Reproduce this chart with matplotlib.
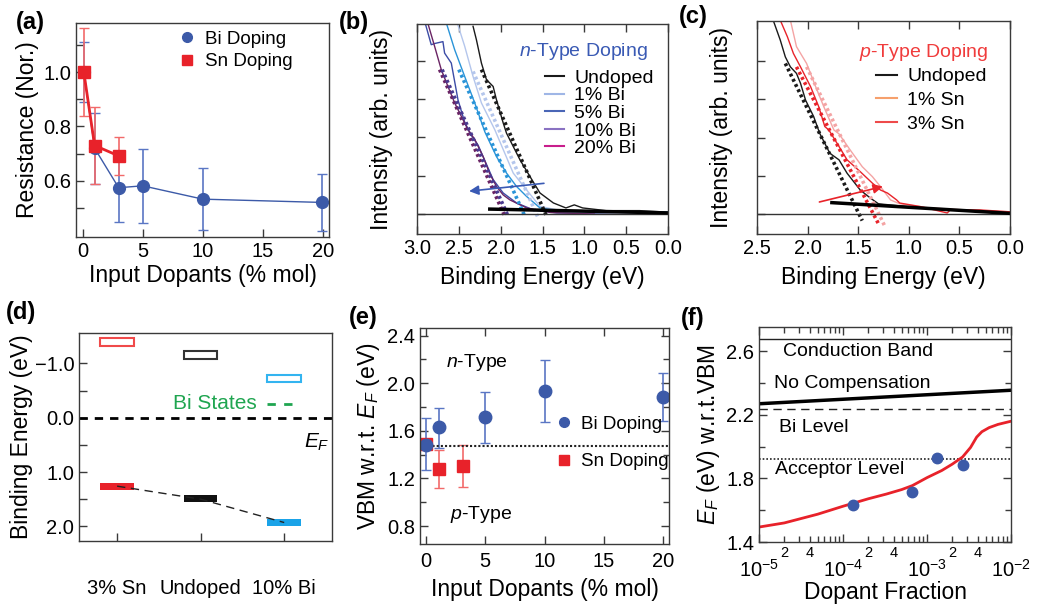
import matplotlib.pyplot as plt
import numpy as np
from matplotlib import ticker
from matplotlib.lines import Line2D

plt.rcParams["font.family"] = ["Liberation Sans", "DejaVu Sans"]
plt.rcParams["mathtext.fontset"] = "custom"
plt.rcParams["mathtext.rm"] = "Liberation Sans"
plt.rcParams["mathtext.it"] = "Liberation Sans:italic"
plt.rcParams["axes.edgecolor"] = "#3a3a3a"
plt.rcParams["axes.linewidth"] = 1.0

# ---- (a) resistance vs input dopants
a_bi_x = [0.1, 1.0, 3.0, 5.0, 10.0, 19.9]
a_bi_y = [1.0, 0.72, 0.575, 0.582, 0.533, 0.521]
a_bi_err = [0.11, 0.13, 0.127, 0.137, 0.115, 0.105]
a_sn_x = [0.1, 1.0, 3.0]
a_sn_y = [1.0, 0.73, 0.692]
a_sn_err = [0.16, 0.14, 0.07]

# ---- (b) VB spectra, n-type
b_labels = ["Undoped", "1% Bi", "5% Bi", "10% Bi", "20% Bi"]
b_undoped_e = [2.33, 2.29, 2.23, 2.17, 2.09, 2.05, 1.97, 1.93, 1.77, 1.65, 1.53, 1.37, 1.22, 1.12, 1.02, 0.74, 0.34, 0.0]
b_undoped_i = [4.9, 4.55, 3.94, 3.51, 3.33, 2.98, 2.38, 2.11, 1.42, 0.98, 0.55, 0.29, 0.16, 0.24, 0.16, 0.09, 0.09, 0.05]
b_1bi_e = [2.55, 2.43, 2.33, 2.23, 2.07, 1.85, 1.69, 1.53, 1.33, 1.0, 0.5, 0.0]
b_1bi_i = [5.2, 4.38, 3.59, 2.9, 2.2, 1.07, 0.63, 0.2, 0.11, 0.07, 0.06, 0.04]
b_cyan_e = [2.68, 2.55, 2.43, 2.31, 2.19, 2.05, 1.93, 1.81, 1.69, 1.53, 1.33, 1.0, 0.5, 0.0]
b_cyan_i = [5.2, 4.29, 3.59, 2.9, 2.15, 1.5, 1.07, 0.72, 0.46, 0.16, 0.09, 0.06, 0.05, 0.05]
b_navy_e = [2.93, 2.83, 2.79, 2.69, 2.67, 2.59, 2.51, 2.43, 2.35, 2.27, 2.21, 2.09, 1.97, 1.81, 1.61, 1.33, 1.0, 0.6, 0.0]
b_navy_i = [5.2, 4.42, 4.45, 4.5, 4.2, 3.94, 2.98, 2.4, 2.05, 1.8, 1.5, 0.9, 0.55, 0.29, 0.11, 0.03, 0.02, 0.04, 0.03]
b_purple_e = [2.90, 2.79, 2.71, 2.63, 2.55, 2.47, 2.39, 2.31, 2.21, 2.13, 2.05, 1.97, 1.89, 1.69, 1.4, 1.0, 0.88]
b_purple_i = [5.2, 4.38, 3.77, 3.33, 2.9, 2.55, 2.2, 1.95, 1.5, 1.05, 0.72, 0.5, 0.37, 0.16, 0.04, 0.01, 0.0]
b_fit_e = [[2.23, 1.45], [2.33, 1.56], [2.50, 1.71], [2.73, 1.95], [2.70, 1.91]]
b_fit_i = [[3.77, -0.06], [3.72, -0.06], [3.77, -0.06], [3.77, -0.06], [3.77, -0.06]]
b_base_e = [2.13, 0.0]
b_base_i = [0.13, 0.03]
b_arrow = [(1.45, 0.81), (2.41, 0.59)]

# ---- (c) VB spectra, p-type
c_labels = ["Undoped", "1% Sn", "3% Sn"]
c_undoped_e = [2.40, 2.34, 2.27, 2.22, 2.17, 2.11, 2.07, 2.02, 1.94, 1.88, 1.78, 1.69, 1.61, 1.48, 1.38, 1.30, 0.95, 0.30, 0.0]
c_undoped_i = [5.6, 5.07, 4.55, 4.11, 3.85, 3.68, 3.42, 2.98, 2.55, 2.11, 1.59, 1.42, 1.07, 0.63, 0.42, 0.27, 0.18, 0.07, 0.05]
c_3sn_e = [2.33, 2.27, 2.2, 2.14, 2.07, 1.97, 1.89, 1.83, 1.79, 1.69, 1.61, 1.48, 1.36, 1.28, 1.21, 1.12, 1.09, 0.89, 0.62, 0.59, 0.30, 0.0]
c_3sn_i = [5.6, 5.07, 4.64, 4.2, 3.85, 3.33, 2.81, 2.29, 2.2, 1.77, 1.42, 1.11, 0.81, 0.63, 0.55, 0.37, 0.29, 0.2, 0.03, 0.11, 0.11, 0.06]
c_1sn_e = [2.22, 2.17, 2.11, 2.01, 1.92, 1.84, 1.74, 1.69, 1.58, 1.46, 1.36, 1.28, 1.18, 1.09, 0.79, 0.30, 0.0]
c_1sn_i = [5.4, 5.07, 4.38, 3.94, 3.33, 2.81, 2.2, 2.1, 1.68, 1.24, 0.98, 0.72, 0.37, 0.27, 0.16, 0.09, 0.06]
c_fit_e = [[2.22, 1.46], [2.11, 1.30], [2.01, 1.24]]
c_fit_i = [[3.94, -0.17], [3.85, -0.25], [3.85, -0.30]]
c_base_e = [1.76, 0.0]
c_base_i = [0.30, 0.02]
c_arrow = [(1.91, 0.30), (1.23, 0.74)]

# ---- (d) band positions
d_samples = ["3% Sn", "Undoped", "10% Bi"]
d_vbm = [1.26, 1.49, 1.93]
d_cbm = [-1.39, -1.16, -0.72]
d_vbm_trend = [1.26, 1.50, 1.93]
d_bi_states = -0.26

# ---- (e) VBM w.r.t. EF
e_bi_x = [0.0, 1.1, 5.0, 10.0, 20.0]
e_bi_y = [1.484, 1.63, 1.714, 1.932, 1.882]
e_bi_err_lo = [0.21, 0.174, 0.216, 0.257, 0.196]
e_bi_err_hi = [0.224, 0.162, 0.21, 0.264, 0.201]
e_sn_x = [0.0, 1.1, 3.1]
e_sn_y = [1.49, 1.282, 1.302]
e_sn_err_lo = [0.0, 0.162, 0.177]
e_sn_err_hi = [0.0, 0.157, 0.177]
e_intrinsic = 1.475

# ---- (f) EF vs dopant fraction
f_frac = [1e-5, 2e-5, 5e-5, 1e-4, 2e-4, 3.3e-4, 5e-4, 6.7e-4, 1e-3, 1.5e-3, 2e-3, 2.65e-3,
          3.3e-3, 3.9e-3, 4.5e-3, 5.5e-3, 7e-3, 1e-2]
f_ef = [1.494, 1.52, 1.575, 1.625, 1.672, 1.702, 1.73, 1.755, 1.805, 1.85, 1.89, 1.935,
        1.995, 2.06, 2.094, 2.12, 2.14, 2.16]
f_pts_x = [1.32e-4, 6.67e-4, 1.32e-3, 2.65e-3]
f_pts_y = [1.631, 1.713, 1.931, 1.883]
f_nocomp_x = [1e-5, 1e-2]
f_nocomp_y = [2.27, 2.355]
f_cb = 2.68
f_bi_level = 2.237
f_acc_level = 1.925

BLUE = "#3c5aa8"
RED = "#e8222a"
FS_TICK = 14.5
FS_LAB = 16.5
FS_TXT = 14

fig = plt.figure(figsize=(10.39, 6.08), dpi=100)
W, H = 1039, 608


def px_axes(left, top, right, bottom):
    return fig.add_axes([left / W, 1 - bottom / H, (right - left) / W, (bottom - top) / H])


def style(ax, top=False, right=False):
    ax.tick_params(which="both", direction="in", top=top, right=right,
                   labelsize=FS_TICK, width=1, color="#3a3a3a")
    ax.tick_params(which="major", length=6)
    ax.tick_params(which="minor", length=4)


# (a)
ax = px_axes(76, 23, 329, 237)
style(ax)
ax.errorbar(a_bi_x, a_bi_y, yerr=a_bi_err, color=BLUE, ecolor="#5a76c4", lw=1,
            elinewidth=1.2, capsize=3.5, marker="o", ms=8.5, label="Bi Doping")
ax.errorbar(a_sn_x, a_sn_y, yerr=a_sn_err, color=RED, ecolor="#f26a6a", lw=2,
            elinewidth=1.2, capsize=3.5, marker="s", ms=8, label="Sn Doping")
ax.set_xlim(-0.55, 20.5)
ax.set_ylim(0.394, 1.18)
ax.set_xticks([0, 5, 10, 15, 20])
ax.yaxis.set_major_locator(ticker.FixedLocator([0.6, 0.8, 1.0]))
ax.yaxis.set_minor_locator(ticker.FixedLocator([0.5, 0.7, 0.9, 1.1]))
ax.yaxis.set_major_formatter(ticker.FormatStrFormatter("%.1f"))
ax.tick_params(which="minor", length=6)
ax.set_xlabel("Input Dopants (% mol)", fontsize=FS_LAB, labelpad=2)
ax.set_ylabel("Resistance (Nor.)", fontsize=FS_LAB, labelpad=3)
h, l = ax.get_legend_handles_labels()
h = [Line2D([], [], color=BLUE, marker="o", ls="none", ms=7),
     Line2D([], [], color=RED, marker="s", ls="none", ms=7)]
ax.legend(h, l, loc="upper left", bbox_to_anchor=(0.40, 0.965), frameon=False,
          fontsize=13.5, handlelength=1.0, handletextpad=0.5, labelspacing=0.3,
          borderpad=0, borderaxespad=0)

# (b)
ax = px_axes(417, 24, 668, 234)
style(ax, top=True)
b_curves = [(b_undoped_e, b_undoped_i, "#1a1a1a"), (b_1bi_e, b_1bi_i, "#b4c6ec"),
            (b_cyan_e, b_cyan_i, "#2a94d8"), (b_navy_e, b_navy_i, "#3c4ca6"),
            (b_purple_e, b_purple_i, "#6a2464")]
for e, i, c in b_curves:
    ax.plot(e, i, color=c, lw=1.0)
for fe, fi, c in zip(b_fit_e, b_fit_i, ["#1a1a1a", "#b4c6ec", "#2a94d8", "#6a2464", "#4a3a90"]):
    ax.plot(fe, fi, color=c, lw=2.6, ls=(0, (0.8, 0.8)))
ax.axhline(0, color="#333333", lw=1)
ax.plot(b_base_e, b_base_i, color="k", lw=2.5)
ax.annotate("", xy=b_arrow[1], xytext=b_arrow[0],
            arrowprops=dict(arrowstyle="-|>", color="#3a5ab4", lw=1.2, mutation_scale=14))
ax.set_xlim(3.0, 0.0)
ax.set_ylim(-0.52, 4.96)
ax.set_xticks(np.arange(0, 3.01, 0.5))
ax.xaxis.set_major_formatter(ticker.FormatStrFormatter("%.1f"))
ax.set_yticks([0, 1, 2, 3, 4])
ax.set_yticklabels([])
ax.set_xlabel("Binding Energy (eV)", fontsize=FS_LAB, labelpad=6)
ax.set_ylabel("Intensity (arb. units)", fontsize=FS_LAB, labelpad=14)
ax.text(1.01, 4.25, r"$n$-Type Doping", ha="center", va="center", color="#3a5ab4", fontsize=FS_TXT)
b_leg_colors = ["#1a1a1a", "#9fb6e6", "#4a66b6", "#8a72c2", "#c81e8c"]
ax.legend([Line2D([], [], color=c, lw=1.5) for c in b_leg_colors], b_labels,
          loc="upper left", bbox_to_anchor=(0.51, 0.785), frameon=False, fontsize=FS_TXT,
          handlelength=1.0, handletextpad=0.5, labelspacing=0.0, borderpad=0, borderaxespad=0)

# (c)
ax = px_axes(757, 21, 1010, 234)
style(ax, top=True)
for e, i, c in [(c_undoped_e, c_undoped_i, "#1a1a1a"), (c_1sn_e, c_1sn_i, "#f4a4a4"),
                (c_3sn_e, c_3sn_i, "#e8232a")]:
    ax.plot(e, i, color=c, lw=1.0)
for fe, fi, c in zip(c_fit_e, c_fit_i, ["#1a1a1a", "#e8232a", "#f4a4a4"]):
    ax.plot(fe, fi, color=c, lw=2.6, ls=(0, (0.8, 0.8)))
ax.axhline(0, color="#333333", lw=1)
ax.plot(c_base_e, c_base_i, color="k", lw=2.5)
ax.annotate("", xy=c_arrow[1], xytext=c_arrow[0],
            arrowprops=dict(arrowstyle="-|>", color="#e8232a", lw=1.2, mutation_scale=14))
ax.set_xlim(2.5, 0.0)
ax.set_ylim(-0.52, 5.05)
ax.set_xticks(np.arange(0, 2.51, 0.5))
ax.xaxis.set_major_formatter(ticker.FormatStrFormatter("%.1f"))
ax.set_yticks([0, 1, 2, 3, 4])
ax.set_yticklabels([])
ax.set_xlabel("Binding Energy (eV)", fontsize=FS_LAB, labelpad=6)
ax.set_ylabel("Intensity (arb. units)", fontsize=FS_LAB, labelpad=14)
ax.text(0.85, 4.22, r"$p$-Type Doping", ha="center", va="center", color="#f03c3c", fontsize=FS_TXT)
ax.legend([Line2D([], [], color=c, lw=1.5) for c in ["#1a1a1a", "#f6a06c", "#ee4a4a"]], c_labels,
          loc="upper left", bbox_to_anchor=(0.47, 0.78), frameon=False, fontsize=FS_TXT,
          handlelength=1.1, handletextpad=0.5, labelspacing=0.32, borderpad=0, borderaxespad=0)

# (d)
ax = px_axes(79, 333, 332, 541)
ax.tick_params(which="both", direction="in", labelsize=FS_TICK, width=1, color="#3a3a3a")
ax.tick_params(which="major", length=6)
ax.tick_params(which="minor", length=6)
pos = np.arange(len(d_samples))
d_fill = ["#e8222a", "#111111", "#1aa3e8"]
d_edge = ["#f04a4a", "#333333", "#33b4f0"]
ax.bar(pos, 0.13, bottom=np.array(d_vbm) - 0.065, width=0.4, color=d_fill)
ax.bar(pos, 0.14, bottom=np.array(d_cbm) - 0.07, width=0.4, fill=False,
       edgecolor=d_edge, lw=1.5)
ax.plot(pos, d_vbm_trend, color="#222222", lw=1, dashes=(6, 4))
ax.axhline(0, color="k", lw=2, dashes=(3, 2.5))
ax.plot([1.79, 2.19], [d_bi_states, d_bi_states], color="#1fa550", lw=2, dashes=(3, 3))
ax.text(1.67, d_bi_states, "Bi States", ha="right", va="center", color="#1fa550", fontsize=15)
ax.text(2.39, 0.45, r"$E_F$", ha="center", va="center", fontsize=15)
ax.set_xlim(-0.456, 2.572)
ax.set_ylim(2.27, -1.56)
ax.set_xticks(pos)
ax.set_xticklabels(d_samples, fontsize=FS_TICK)
ax.tick_params(axis="x", pad=27)
ax.yaxis.set_major_locator(ticker.FixedLocator([-1.0, 0.0, 1.0, 2.0]))
ax.yaxis.set_minor_locator(ticker.FixedLocator([-0.5, 0.5, 1.5]))
ax.yaxis.set_major_formatter(ticker.FuncFormatter(lambda v, p: f"{v:.1f}".replace("-", "\u2212")))
ax.set_ylabel("Binding Energy (eV)", fontsize=FS_LAB, labelpad=1)

# (e)
ax = px_axes(420, 328, 669, 544)
style(ax, top=True, right=True)
ax.errorbar(e_sn_x, e_sn_y, yerr=[e_sn_err_lo, e_sn_err_hi], color=RED, ecolor="#f26a6a",
            ls="none", elinewidth=1.2, capsize=3.5, marker="s", ms=8.5)
ax.errorbar(e_bi_x, e_bi_y, yerr=[e_bi_err_lo, e_bi_err_hi], color=BLUE, ecolor="#5a76c4",
            ls="none", elinewidth=1.2, capsize=3.5, marker="o", ms=9)
ax.axhline(e_intrinsic, color="#222222", lw=1.5, ls=(0, (1, 1)))
ax.text(1.7, 2.17, r"$n$-Type", ha="left", va="center", fontsize=FS_TXT)
ax.text(2.0, 0.90, r"$p$-Type", ha="left", va="center", fontsize=FS_TXT)
ax.set_xlim(-0.5, 20.5)
ax.set_ylim(0.649, 2.464)
ax.set_xticks([0, 5, 10, 15, 20])
ax.yaxis.set_major_locator(ticker.MultipleLocator(0.4))
ax.yaxis.set_minor_locator(ticker.MultipleLocator(0.2))
ax.yaxis.set_major_formatter(ticker.FormatStrFormatter("%.1f"))
ax.tick_params(axis="x", pad=6)
ax.set_xlabel("Input Dopants (% mol)", fontsize=FS_LAB, labelpad=5)
ax.set_ylabel(r"VBM w.r.t. $E_F$ (eV)", fontsize=FS_LAB, labelpad=4)
ax.legend([Line2D([], [], color=BLUE, marker="o", ls="none", ms=7),
           Line2D([], [], color=RED, marker="s", ls="none", ms=7)],
          ["Bi Doping", "Sn Doping"], loc="upper left", bbox_to_anchor=(0.54, 0.595),
          frameon=False, fontsize=13.5, handlelength=1.0, handletextpad=0.4,
          labelspacing=1.1, borderpad=0, borderaxespad=0)

# (f)
ax = px_axes(759, 327, 1011, 542)
style(ax, top=True, right=True)
ax.set_xscale("log")
ax.axhline(f_cb, color="#222222", lw=1)
ax.plot(f_nocomp_x, f_nocomp_y, color="k", lw=2.5)
ax.axhline(f_bi_level, color="#222222", lw=1, dashes=(6, 4))
ax.axhline(f_acc_level, color="#222222", lw=1.2, ls=(0, (1, 1.2)))
ax.plot(f_frac, f_ef, color="#e8222a", lw=2)
ax.plot(f_pts_x, f_pts_y, "o", color=BLUE, ms=7.5)
ax.text(1.93e-5, 2.60, "Conduction Band", ha="left", va="center", fontsize=FS_TXT)
ax.text(1.5e-5, 2.395, "No Compensation", ha="left", va="center", fontsize=FS_TXT)
ax.text(1.72e-5, 2.118, "Bi Level", ha="left", va="center", fontsize=FS_TXT)
ax.text(1.57e-5, 1.857, "Acceptor Level", ha="left", va="center", fontsize=FS_TXT)
ax.set_xlim(1e-5, 1e-2)
ax.set_ylim(1.4, 2.753)
ax.yaxis.set_major_locator(ticker.FixedLocator([1.4, 1.8, 2.2, 2.6]))
ax.yaxis.set_minor_locator(ticker.FixedLocator([1.6, 2.0, 2.4]))
ax.yaxis.set_major_formatter(ticker.FormatStrFormatter("%.1f"))
ax.xaxis.set_major_locator(ticker.LogLocator(base=10, numticks=10))
ax.xaxis.set_minor_locator(ticker.LogLocator(base=10, subs=np.arange(2, 10), numticks=10))


def minor_fmt(v, pos):
    m = int(round(v / 10 ** np.floor(np.log10(v) + 1e-9)))
    return str(m) if m in (2, 4) else ""


ax.xaxis.set_minor_formatter(ticker.FuncFormatter(minor_fmt))
ax.tick_params(axis="x", which="minor", labelsize=10.5, pad=3)
ax.tick_params(axis="x", which="major", pad=12)
ax.set_xlabel("Dopant Fraction", fontsize=FS_LAB, labelpad=0)
ax.set_ylabel(r"$E_F$ (eV) w.r.t.VBM", fontsize=FS_LAB, labelpad=3)

for lab, x, y in [("(a)", 16, 23), ("(b)", 339, 23), ("(c)", 679, 17),
                  ("(d)", 6, 313), ("(e)", 349, 317), ("(f)", 681, 318)]:
    fig.text(x / W, 1 - y / H, lab, fontsize=17, fontweight="bold", ha="left", va="center")

fig.savefig("out.png", dpi=100)
